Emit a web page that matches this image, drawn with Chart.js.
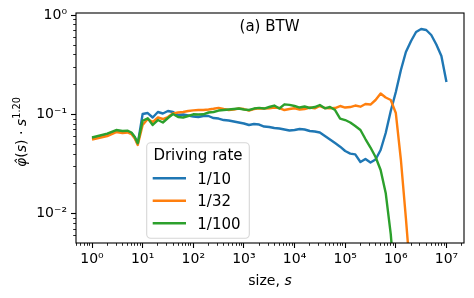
<!DOCTYPE html>
<html><head><meta charset="utf-8">
<script src="https://cdn.jsdelivr.net/npm/chart.js@4/dist/chart.umd.min.js"></script>
<style>html,body{margin:0;padding:0;background:#fff}canvas{display:block}</style>
</head><body>
<canvas id="c" width="474" height="298"></canvas>
<script>
// ---- data ----
const sizes = [1,2,3,4,5,6,7,8,
  10,12.6,15.8,20,25.1,31.6,39.8,50.1,63.1,79.4,
  100,126,158,200,251,316,398,501,631,794,
  1000,1260,1580,2000,2510,3160,3980,5010,6310,7940,
  1e4,1.26e4,1.58e4,2e4,2.51e4,3.16e4,3.98e4,5.01e4,6.31e4,7.94e4,
  1e5,1.26e5,1.58e5,2e5,2.51e5,3.16e5,3.98e5,5.01e5,6.31e5,7.94e5,
  1e6,1.26e6,1.58e6,2e6,2.51e6,3.16e6,3.98e6,5.01e6,6.31e6,7.94e6,
  1e7];
const rate_1_10 = [0.0573,0.0622,0.0682,0.0666,0.0674,0.0651,0.0587,0.0504,
  0.1012,0.1035,0.0933,0.106,0.1024,0.1085,0.106,0.0988,0.100,0.0977,
  0.0955,0.0944,0.0966,0.0966,0.0922,0.0911,0.088,0.087,0.085,0.0831,
  0.0812,0.0784,0.0802,0.0793,0.0757,0.0748,0.0731,0.0723,0.0706,0.069,
  0.0698,0.0714,0.0706,0.0682,0.0674,0.0659,0.0607,0.056,0.0516,0.0474,
  0.0429,0.0404,0.0396,0.0332,0.0356,0.0328,0.0352,0.0439,0.0651,0.1085,
  0.1686,0.281,0.427,0.551,0.679,0.727,0.711,0.633,0.508,0.389,
  0.213];
const rate_1_32 = [0.056,0.0607,0.0666,0.0651,0.0659,0.0636,0.0573,0.0493,
  0.0784,0.0901,0.084,0.0933,0.0901,0.0944,0.1028,0.1048,0.106,0.1085,
  0.1102,0.111,0.111,0.1123,0.1142,0.1168,0.1136,0.111,0.1123,0.1149,
  0.1136,0.1097,0.1136,0.1155,0.1149,0.1155,0.1176,0.1163,0.111,0.1136,
  0.1155,0.1123,0.1136,0.1176,0.1155,0.1218,0.1163,0.1155,0.1163,0.1218,
  0.1176,0.119,0.1232,0.1199,0.1276,0.1261,0.140,0.1628,0.1483,0.140,
  0.1035,0.0348,0.00905,0.002,null,null,null,null,null,null,
  null];
const rate_1_100 = [0.0587,0.0643,0.0698,0.0682,0.0687,0.0659,0.0593,0.0513,
  0.0866,0.0916,0.0784,0.088,0.0831,0.0922,0.1012,0.0944,0.0933,0.0966,
  0.1005,0.100,0.1005,0.1048,0.106,0.1097,0.111,0.1123,0.1136,0.1149,
  0.1123,0.111,0.1149,0.1168,0.1149,0.119,0.1232,0.1149,0.1267,0.1252,
  0.1218,0.1176,0.1204,0.1163,0.119,0.1247,0.1155,0.119,0.111,0.0911,
  0.088,0.0831,0.0766,0.0698,0.0566,0.0465,0.0373,0.0276,0.0162,0.00624,
  0.0015,null,null,null,null,null,null,null,null,null,
  null];
const seriesLabels = ['1/10','1/32','1/100'];
const seriesColors = ['#1f77b4','#ff7f0e','#2ca02c'];
const legendTitle = 'Driving rate';
const panelTitle = '(a) BTW';
const xMajorTicks = [1,10,100,1e3,1e4,1e5,1e6,1e7];
const xTickLabels = ['10⁰','10¹','10²','10³','10⁴','10⁵','10⁶','10⁷'];
const yMajorTicks = [0.01,0.1,1];
const yTickLabels = ['10⁻²','10⁻¹','10⁰'];
const xRange = [0.483, 2.22e7];
const yRange = [0.00507, 1.055];

// ---- helpers ----
const FONT = '"DejaVu Sans", sans-serif';
const LW = 2.4;
function logTickList(min, max) {
  const out = [];
  for (let e = Math.floor(Math.log10(min)); e <= Math.ceil(Math.log10(max)); e++) {
    for (let m = 1; m <= 9; m++) {
      const v = parseFloat((m * Math.pow(10, e)).toPrecision(6));
      if (v >= min && v <= max) out.push({value: v, major: m === 1});
    }
  }
  return out;
}
function labelFor(v, majors, labels) {
  for (let i = 0; i < majors.length; i++) if (Math.abs(v / majors[i] - 1) < 1e-6) return labels[i];
  return '';
}
const isMajor = c => c.tick && c.tick.major;

const datasets = [rate_1_10, rate_1_32, rate_1_100].map((vals, i) => ({
  label: seriesLabels[i],
  data: sizes.map((s, k) => ({x: s, y: vals[k]})),
  borderColor: seriesColors[i],
  backgroundColor: seriesColors[i],
  borderWidth: LW,
  pointRadius: 0,
  tension: 0,
  fill: false,
  spanGaps: false,
  borderJoinStyle: 'round',
  borderCapStyle: 'butt',
  order: 2 - i
}));

const decor = {
  id: 'decor',
  afterDatasetsDraw(chart) {
    const {ctx, chartArea: a} = chart;
    ctx.save();
    ctx.strokeStyle = '#000';
    ctx.lineWidth = 1.1;
    ctx.strokeRect(a.left, a.top, a.right - a.left, a.bottom - a.top);
    ctx.restore();
  },
  afterDraw(chart) {
    const {ctx, chartArea: a} = chart;
    ctx.save();
    ctx.fillStyle = '#000';
    // panel title
    ctx.font = '15px ' + FONT;
    ctx.textAlign = 'center';
    ctx.textBaseline = 'alphabetic';
    ctx.fillText(panelTitle, a.left + 193.5, a.top + 18.2);
    // x label: "size, s"
    const p1 = 'size, ';
    ctx.font = '14px ' + FONT; const w1 = ctx.measureText(p1).width;
    ctx.font = 'italic 14px ' + FONT; const w2 = ctx.measureText('s').width;
    const cx = (a.left + a.right) / 2;
    let x0 = cx - (w1 + w2) / 2;
    ctx.textAlign = 'left';
    ctx.font = '14px ' + FONT; ctx.fillText(p1, x0, 284.5);
    ctx.font = 'italic 14px ' + FONT; ctx.fillText('s', x0 + w1, 284.5);
    // y label: φ̂(s) · s^1.20
    const parts = [
      {t: 'φ̂', f: 'italic 14px ', dy: 0},
      {t: '(', f: '14px ', dy: 0},
      {t: 's', f: 'italic 14px ', dy: 0},
      {t: ')', f: '14px ', dy: 0},
      {t: ' · ', f: '14px ', dy: 0},
      {t: 's', f: 'italic 14px ', dy: 0},
      {t: '1.20', f: '9.8px ', dy: -6}
    ];
    let tot = 0;
    parts.forEach(p => { ctx.font = p.f + FONT; p.w = ctx.measureText(p.t).width; tot += p.w; });
    ctx.translate(26, 132);
    ctx.rotate(-Math.PI / 2);
    let px = -tot / 2;
    parts.forEach(p => { ctx.font = p.f + FONT; ctx.fillText(p.t, px, p.dy); px += p.w; });
    ctx.restore();

    // legend
    ctx.save();
    const L = {x0: a.left + 70.7, y0: a.bottom - 100.3, x1: a.left + 173.3, y1: a.bottom - 4.7};
    const r = 4;
    ctx.beginPath();
    ctx.moveTo(L.x0 + r, L.y0);
    ctx.arcTo(L.x1, L.y0, L.x1, L.y1, r);
    ctx.arcTo(L.x1, L.y1, L.x0, L.y1, r);
    ctx.arcTo(L.x0, L.y1, L.x0, L.y0, r);
    ctx.arcTo(L.x0, L.y0, L.x1, L.y0, r);
    ctx.closePath();
    ctx.fillStyle = 'rgba(255,255,255,0.8)';
    ctx.fill();
    ctx.strokeStyle = 'rgba(204,204,204,0.8)';
    ctx.lineWidth = 1.1;
    ctx.stroke();
    ctx.fillStyle = '#000';
    ctx.font = '15px ' + FONT;
    ctx.textAlign = 'center';
    ctx.textBaseline = 'alphabetic';
    ctx.fillText(legendTitle, (L.x0 + L.x1) / 2, L.y0 + 17.5);
    ctx.textAlign = 'left';
    chart.data.datasets.forEach((ds, i) => {
      const y = L.y0 + 35.6 + i * 22.5;
      ctx.strokeStyle = ds.borderColor;
      ctx.lineWidth = LW;
      ctx.lineCap = 'butt';
      ctx.beginPath();
      ctx.moveTo(L.x0 + 6, y);
      ctx.lineTo(L.x0 + 39.3, y);
      ctx.stroke();
      ctx.fillStyle = '#000';
      ctx.fillText(ds.label, L.x0 + 50.6, y + 5.3);
    });
    ctx.restore();
  }
};

Chart.defaults.font.family = FONT;
Chart.defaults.color = '#000';

new Chart(document.getElementById('c'), {
  type: 'line',
  data: {datasets},
  plugins: [decor],
  options: {
    responsive: false,
    devicePixelRatio: 1,
    animation: false,
    events: [],
    layout: {padding: {top: 13, right: 10, left: 0, bottom: 0}},
    plugins: {legend: {display: false}, tooltip: {enabled: false}, title: {display: false}},
    scales: {
      x: {
        type: 'logarithmic',
        min: xRange[0], max: xRange[1],
        bounds: 'data',
        afterBuildTicks: s => { s.ticks = logTickList(xRange[0], xRange[1]); },
        afterFit: s => { s.height = 55; },
        border: {display: false},
        grid: {
          drawOnChartArea: false, drawTicks: true, tickLength: 5, tickColor: '#000',
          tickWidth: c => isMajor(c) ? 1.1 : 0.85,
          tickBorderDash: c => isMajor(c) ? [] : [2.8, 20]
        },
        ticks: {
          autoSkip: false, maxRotation: 0, minRotation: 0, padding: 3,
          font: {size: 14, family: FONT}, color: '#000',
          callback: v => labelFor(v, xMajorTicks, xTickLabels)
        }
      },
      y: {
        type: 'logarithmic',
        min: yRange[0], max: yRange[1],
        bounds: 'data',
        afterBuildTicks: s => { s.ticks = logTickList(yRange[0], yRange[1]); },
        afterFit: s => { s.width = 76; },
        border: {display: false},
        grid: {
          drawOnChartArea: false, drawTicks: true, tickLength: 5, tickColor: '#000',
          tickWidth: c => isMajor(c) ? 1.1 : 0.85,
          tickBorderDash: c => isMajor(c) ? [] : [0, 2.2, 2.8, 20]
        },
        ticks: {
          autoSkip: false, padding: 4,
          font: {size: 14, family: FONT}, color: '#000',
          callback: v => labelFor(v, yMajorTicks, yTickLabels)
        }
      }
    }
  }
});
</script>
</body></html>
